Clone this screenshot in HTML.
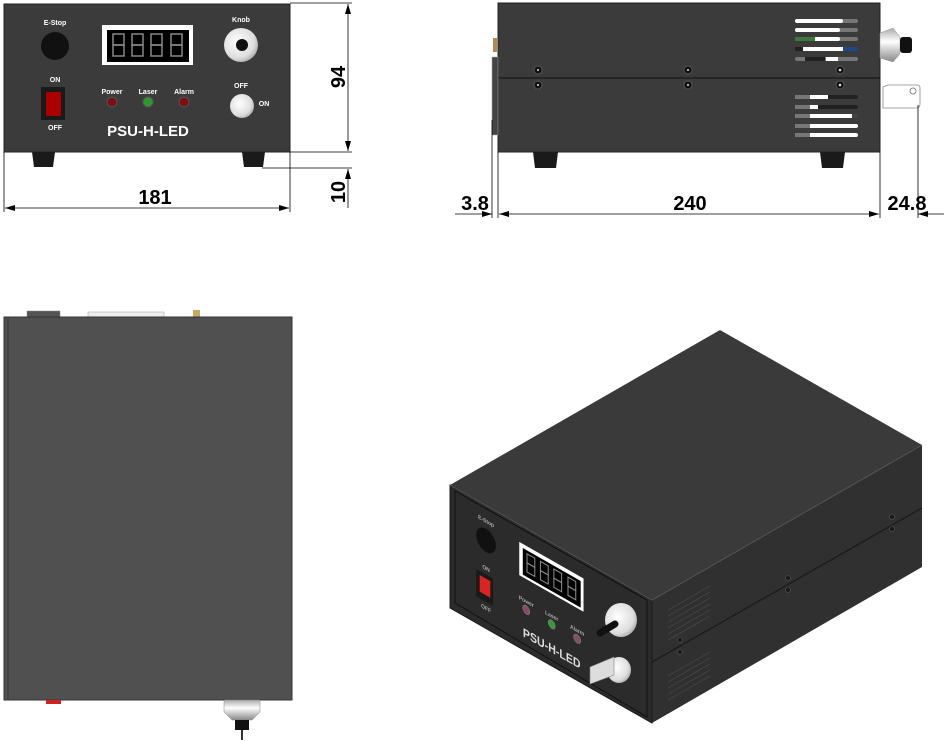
<!DOCTYPE html>
<html><head><meta charset="utf-8"><style>
html,body{margin:0;padding:0;background:#fff;}
svg{display:block;}
text{font-family:"Liberation Sans",Arial,sans-serif;font-weight:bold;}
</style></head><body>
<svg width="944" height="741" viewBox="0 0 944 741" xmlns="http://www.w3.org/2000/svg">
<defs>
<radialGradient id="kg" cx="0.4" cy="0.4" r="0.7"><stop offset="0" stop-color="#fff"/><stop offset="0.7" stop-color="#ddd"/><stop offset="1" stop-color="#999"/></radialGradient>
<linearGradient id="cone" x1="0" y1="0" x2="0" y2="1"><stop offset="0" stop-color="#aaa"/><stop offset="0.4" stop-color="#fff"/><stop offset="1" stop-color="#888"/></linearGradient>
<marker id="ar" viewBox="0 0 10 6" refX="10" refY="3" markerWidth="10" markerHeight="6" orient="auto-start-reverse" markerUnits="userSpaceOnUse"><path d="M0,0 L10,3 L0,6 Z" fill="#000"/></marker>
</defs>

<!-- ========== FRONT VIEW ========== -->
<rect x="4" y="4" width="286" height="148" fill="#3b3b3b" stroke="#222"/>
<polygon points="32,152 55,152 53,167 34,167" fill="#1a1a1a"/>
<polygon points="242,152 265,152 263,167 244,167" fill="#1a1a1a"/>
<g id="panel">
<text x="55" y="25" font-size="7" fill="#fff" text-anchor="middle">E-Stop</text>
<circle cx="55" cy="46" r="14" fill="#111"/>
<rect x="102" y="25" width="91" height="40" fill="#fff"/>
<rect x="107" y="30" width="82" height="32" fill="#000"/>
<g fill="none" stroke="#888" stroke-width="1.5">
<rect x="113" y="34" width="11" height="11"/><rect x="113" y="45" width="11" height="11"/>
<rect x="132" y="34" width="11" height="11"/><rect x="132" y="45" width="11" height="11"/>
<rect x="151" y="34" width="11" height="11"/><rect x="151" y="45" width="11" height="11"/>
<rect x="171" y="34" width="11" height="11"/><rect x="171" y="45" width="11" height="11"/>
</g>
<text x="241" y="22" font-size="7" fill="#fff" text-anchor="middle">Knob</text>
<circle cx="241" cy="45" r="17" fill="url(#kg)"/>
<circle cx="242" cy="45" r="6" fill="#111"/>
<text x="55" y="82" font-size="7" fill="#fff" text-anchor="middle">ON</text>
<rect x="41" y="87" width="24" height="33" fill="#1a1a1a"/>
<rect x="46" y="92" width="15" height="24" fill="#a00"/>
<text x="55" y="130" font-size="7" fill="#fff" text-anchor="middle">OFF</text>
<text x="112" y="94" font-size="7" fill="#fff" text-anchor="middle">Power</text>
<text x="148" y="94" font-size="7" fill="#fff" text-anchor="middle">Laser</text>
<text x="184" y="94" font-size="7" fill="#fff" text-anchor="middle">Alarm</text>
<circle cx="112" cy="102" r="5" fill="#7a1010" stroke="#555"/>
<circle cx="148" cy="102" r="5" fill="#2a9a2a" stroke="#555"/>
<circle cx="184" cy="102" r="5" fill="#7a1010" stroke="#555"/>
<circle cx="242" cy="106" r="12" fill="url(#kg)"/>
<text x="241" y="88" font-size="7" fill="#fff" text-anchor="middle">OFF</text>
<text x="264" y="106" font-size="7" fill="#fff" text-anchor="middle">ON</text>
<text x="148" y="136" font-size="15" fill="#fff" text-anchor="middle">PSU-H-LED</text>
</g>
<!-- dims front -->
<g stroke="#000" stroke-width="0.8" fill="none">
<line x1="290" y1="3" x2="352" y2="3"/>
<line x1="290" y1="152" x2="352" y2="152"/>
<line x1="262" y1="168" x2="352" y2="168"/>
<line x1="348" y1="4" x2="348" y2="151" marker-start="url(#ar)" marker-end="url(#ar)"/>
<line x1="348" y1="169" x2="348" y2="208" marker-start="url(#ar)"/>
<line x1="4" y1="152" x2="4" y2="212"/>
<line x1="290" y1="152" x2="290" y2="212"/>
<line x1="5" y1="208" x2="289" y2="208" marker-start="url(#ar)" marker-end="url(#ar)"/>
</g>
<text x="155" y="204" font-size="20" text-anchor="middle">181</text>
<text transform="translate(345,77) rotate(-90)" font-size="20" text-anchor="middle">94</text>
<text transform="translate(345,192) rotate(-90)" font-size="20" text-anchor="middle">10</text>

<!-- ========== SIDE VIEW ========== -->
<rect x="498" y="3" width="382" height="149" fill="#3b3b3b" stroke="#222"/>
<line x1="498" y1="78" x2="880" y2="78" stroke="#1e1e1e" stroke-width="1.5"/>
<rect x="492" y="57" width="6" height="78" fill="#444" stroke="#aaa" stroke-width="0.5"/>
<rect x="493" y="38" width="4" height="14" fill="#b08a50"/>
<polygon points="533,152 558,152 556,168 535,168" fill="#1a1a1a"/>
<polygon points="820,152 845,152 843,168 822,168" fill="#1a1a1a"/>
<g fill="#111" stroke="#555" stroke-width="1">
<circle cx="538" cy="70" r="4"/><circle cx="688" cy="70" r="4"/><circle cx="840" cy="70" r="4"/>
<circle cx="538" cy="85" r="4"/><circle cx="688" cy="85" r="4"/><circle cx="840" cy="85" r="4"/>
</g>
<g fill="#ddd"><circle cx="538" cy="70" r="1"/><circle cx="688" cy="70" r="1"/><circle cx="840" cy="70" r="1.3"/><circle cx="538" cy="85" r="1"/><circle cx="688" cy="85" r="1"/><circle cx="840" cy="85" r="1.3"/></g>
<g>
<rect x="795" y="19" width="63" height="4" rx="2" fill="#777"/><rect x="795" y="19" width="48" height="4" rx="2" fill="#fff"/>
<rect x="795" y="28" width="63" height="4" rx="2" fill="#777"/><rect x="795" y="28" width="45" height="4" rx="2" fill="#fff"/>
<rect x="795" y="37" width="63" height="4" rx="2" fill="#777"/><rect x="795" y="37" width="45" height="4" rx="2" fill="#fff"/><rect x="795" y="37" width="20" height="4" fill="#3a7a3a"/>
<rect x="795" y="47" width="63" height="4" rx="2" fill="#1a4a8a"/><rect x="803" y="47" width="40" height="4" fill="#fff"/><rect x="795" y="47" width="8" height="4" fill="#222"/>
<rect x="795" y="57" width="63" height="4" rx="2" fill="#777"/><rect x="826" y="57" width="12" height="4" fill="#fff"/><rect x="805" y="57" width="20" height="4" fill="#222"/>
<rect x="795" y="95" width="63" height="4" rx="2" fill="#222"/><rect x="795" y="95" width="15" height="4" fill="#777"/><rect x="810" y="95" width="18" height="4" fill="#fff"/>
<rect x="795" y="105" width="63" height="4" rx="2" fill="#222"/><rect x="795" y="105" width="15" height="4" fill="#777"/><rect x="810" y="105" width="8" height="4" fill="#fff"/>
<rect x="795" y="114" width="63" height="4" rx="2" fill="#444"/><rect x="795" y="114" width="15" height="4" fill="#777"/><rect x="810" y="114" width="42" height="4" fill="#fff"/>
<rect x="795" y="124" width="63" height="4" rx="2" fill="#fff"/><rect x="795" y="124" width="15" height="4" fill="#777"/>
<rect x="795" y="133" width="63" height="4" rx="2" fill="#fff"/><rect x="795" y="133" width="15" height="4" fill="#777"/>
</g>
<polygon points="880,33 893,28 900,37 900,54 893,62 880,58" fill="url(#cone)" stroke="#999" stroke-width="0.5"/>
<rect x="900" y="37" width="12" height="16" rx="3" fill="#111"/>
<path d="M883,87 L888,85 L917,85 Q920,85 920,88 L920,104 Q920,108 916,108 L883,108 Z" fill="#fff" stroke="#888" stroke-width="0.8"/>
<circle cx="913" cy="91" r="3" fill="none" stroke="#888"/>
<!-- dims side -->
<g stroke="#000" stroke-width="0.8" fill="none">
<line x1="492" y1="120" x2="492" y2="218"/>
<line x1="498" y1="152" x2="498" y2="218"/>
<line x1="880" y1="152" x2="880" y2="218"/>
<line x1="918" y1="105" x2="918" y2="218"/>
<line x1="455" y1="214" x2="492" y2="214" marker-end="url(#ar)"/>
<line x1="499" y1="214" x2="879" y2="214" marker-start="url(#ar)" marker-end="url(#ar)"/>
<line x1="918" y1="214" x2="944" y2="214" marker-start="url(#ar)"/>
</g>
<text x="475" y="210" font-size="20" text-anchor="middle">3.8</text>
<text x="690" y="210" font-size="20" text-anchor="middle">240</text>
<text x="907" y="210" font-size="20" text-anchor="middle">24.8</text>

<!-- ========== TOP VIEW ========== -->
<rect x="27" y="311" width="33" height="6" fill="#555" stroke="#888" stroke-width="0.5"/>
<rect x="88" y="312" width="76" height="5" fill="#eee" stroke="#999" stroke-width="0.5"/>
<rect x="193" y="310" width="7" height="8" fill="#c9a860"/>
<rect x="4" y="317" width="288" height="383" fill="#505050" stroke="#333"/>
<line x1="8" y1="318" x2="8" y2="699" stroke="#444" stroke-width="2"/>
<rect x="46" y="700" width="15" height="4" fill="#c22"/>
<path d="M224,700 L260,700 L260,712 L252,720 L232,720 L224,712 Z" fill="url(#cone)" stroke="#888" stroke-width="0.5"/>
<rect x="235" y="720" width="14" height="10" fill="#111"/>
<line x1="242" y1="730" x2="242" y2="740" stroke="#333" stroke-width="2"/>

<!-- ========== ISO VIEW ========== -->
<polygon points="450,485 720,330 922,445 652,600" fill="#3a3a3a"/>
<polygon points="652,600 922,445 922,567 652,723" fill="#303030"/>
<polygon points="450,485 652,600 652,723 450,608" fill="#2b2b2b" stroke="#1a1a1a"/>
<polyline points="450,485 652,600 922,445" fill="none" stroke="#555" stroke-width="1"/>
<line x1="652" y1="662" x2="922" y2="508" stroke="#1a1a1a" stroke-width="1.2"/>
<g fill="none" stroke="#444" stroke-width="1">
<line x1="668" y1="610" x2="710" y2="586"/><line x1="668" y1="616" x2="710" y2="592"/><line x1="668" y1="622" x2="710" y2="598"/><line x1="668" y1="628" x2="710" y2="604"/><line x1="668" y1="634" x2="710" y2="610"/><line x1="668" y1="640" x2="710" y2="616"/>
<line x1="668" y1="676" x2="710" y2="652"/><line x1="668" y1="682" x2="710" y2="658"/><line x1="668" y1="688" x2="710" y2="664"/><line x1="668" y1="694" x2="710" y2="670"/><line x1="668" y1="700" x2="710" y2="676"/>
</g>
<g fill="#1a1a1a" stroke="#555" stroke-width="0.6">
<circle cx="680" cy="640" r="2.5"/><circle cx="680" cy="652" r="2.5"/>
<circle cx="788" cy="578" r="2.5"/><circle cx="788" cy="590" r="2.5"/>
<circle cx="892" cy="517" r="2.5"/><circle cx="892" cy="529" r="2.5"/>
</g>
<polygon points="455,491 647,600 647,717 455,603" fill="none" stroke="#111" stroke-width="1"/>
<g transform="matrix(0.7063,0.402,0,0.831,447.2,480.1)">
<text x="55" y="25" font-size="7" fill="#aaa" text-anchor="middle">E-Stop</text>
<circle cx="55" cy="46" r="14" fill="#111"/>
<rect x="102" y="25" width="91" height="40" fill="#fff"/>
<rect x="107" y="30" width="82" height="32" fill="#000"/>
<g fill="none" stroke="#888" stroke-width="1.5">
<rect x="113" y="34" width="11" height="11"/><rect x="113" y="45" width="11" height="11"/>
<rect x="132" y="34" width="11" height="11"/><rect x="132" y="45" width="11" height="11"/>
<rect x="151" y="34" width="11" height="11"/><rect x="151" y="45" width="11" height="11"/>
<rect x="171" y="34" width="11" height="11"/><rect x="171" y="45" width="11" height="11"/>
</g>
<text x="55" y="82" font-size="7" fill="#aaa" text-anchor="middle">ON</text>
<rect x="41" y="87" width="24" height="33" fill="#1a1a1a"/>
<rect x="46" y="92" width="15" height="20" fill="#d22"/>
<text x="55" y="130" font-size="7" fill="#aaa" text-anchor="middle">OFF</text>
<text x="112" y="94" font-size="7" fill="#aaa" text-anchor="middle">Power</text>
<text x="148" y="94" font-size="7" fill="#aaa" text-anchor="middle">Laser</text>
<text x="184" y="94" font-size="7" fill="#aaa" text-anchor="middle">Alarm</text>
<circle cx="112" cy="102" r="5" fill="#8a4a6a" stroke="#777"/>
<circle cx="148" cy="102" r="5" fill="#3a9a3a" stroke="#777"/>
<circle cx="184" cy="102" r="5" fill="#8a4a6a" stroke="#777"/>
<text x="148" y="136" font-size="15" fill="#ddd" text-anchor="middle">PSU-H-LED</text>
</g>
<ellipse cx="621" cy="620" rx="16" ry="17" fill="url(#kg)"/>
<line x1="615" y1="624" x2="600" y2="633" stroke="#111" stroke-width="7" stroke-linecap="round"/>
<ellipse cx="619" cy="670" rx="12" ry="13" fill="url(#kg)"/>
<polygon points="590,667 614,657 614,675 590,684" fill="#ddd" stroke="#888" stroke-width="0.6"/>
</svg>
</body></html>
